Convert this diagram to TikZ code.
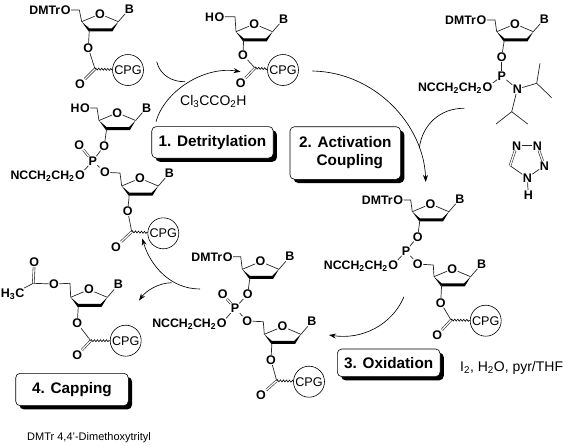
\documentclass[tikz,border=0pt]{standalone}
\usepackage{fontspec}
\setmainfont{Liberation Sans}
\usetikzlibrary{arrows.meta,decorations.pathmorphing,shadows}
\tikzset{
  atom/.style={font=\fontsize{12.5}{12.5}\selectfont\bfseries,inner sep=.3pt},
  atomlead/.style={font=\fontsize{12.3}{12.3}\selectfont\bfseries,inner ysep=.3pt,inner xsep=0pt,anchor=base east},
  bond/.style={line width=.7pt,black!85},
  dbl/.style={double=white,double distance=1.3pt,line width=.6pt,black!85},
  wig/.style={line width=.6pt,decorate,decoration={zigzag,amplitude=1pt,segment length=3pt}},
  cpg/.style={circle,draw,line width=.6pt,minimum size=31pt,inner sep=0pt,font=\fontsize{12.6}{12.6}\selectfont},
  reagent/.style={font=\fontsize{14}{14}\selectfont,inner sep=0pt},
  stepnode/.style={draw,line width=.6pt,fill=white,rounded corners=4.5pt,align=center,inner sep=0pt,
    font=\fontsize{15.3}{18}\selectfont\bfseries,
    general shadow={fill=black,shadow xshift=3.7pt,shadow yshift=-3.7pt}},
  arcline/.style={line width=.65pt},
  arcarrow/.style={arcline,-{Stealth[length=7pt,width=5pt]}}
}
% ring: name, x, y of C4'
\newcommand{\fur}[3]{%
  \coordinate (#1-c4) at (#2,#3);
  \coordinate (#1-c3) at (#2+7.6,#3+8.3);
  \coordinate (#1-c2) at (#2+30,#3+8.3);
  \coordinate (#1-c1) at (#2+36.6,#3);
  \node[atom] (#1-o) at (#2+18.3,#3-7.7) {O};
  \node[atom] (#1-b) at (#2+47.6,#3-12.7) {B};
  \draw[bond] (#1-c4) -- (#1-o);
  \draw[bond] (#1-o) -- (#1-c1);
  \draw[bond] (#1-c1) -- (#1-b);
  \fill (#2,#3) -- (#2+7.6,#3+6.6) -- (#2+30,#3+6.6) -- (#2+36.6,#3) -- (#2+30.8,#3+9.6) -- (#2+7,#3+9.6) -- cycle;
}
% tail: name, O3' x y, C x y, O= x y, CPG x y
\newcommand{\tail}[9]{%
  \node[atom] (#1-os) at (#2,#3) {O};
  \coordinate (#1-co) at (#4,#5);
  \node[atom] (#1-oc) at (#6,#7) {O};
  \node[cpg] (#1-cpg) at (#8,#9) {CPG};
  \draw[bond] (#1-c3) -- (#1-os);
  \draw[bond] (#1-os) -- (#1-co);
  \draw[dbl] (#1-co) -- (#1-oc);
  \draw[wig] (#1-co) -- (#1-cpg);
}
% 5' substituent: name, lead text, O x y, CH2 x y
\newcommand{\five}[6]{%
  \node[atom] (#1-ofive) at (#3,#4) {O};
  \node[atomlead] (#1-pre) at (#1-ofive.base west) {#2};
  \coordinate (#1-ch) at (#5,#6);
  \draw[bond] (#1-ofive) -- (#1-ch) -- (#1-c4);
}
% phosphate/phosphite link
\newcommand{\plink}[9]{%
  \node[atom] (#1-p) at (#2,#3) {P};
  \node[atom] (#1-ou) at (#4,#5) {O};
  \node[atom] (#1-ol) at (#6,#7) {O};
  \node[atom] (#1-oc) at (#8,#9) {O};
  \node[atomlead] (#1-ne) at (#1-oc.base west) {NCCH\textsubscript{2}CH\textsubscript{2}};
  \draw[bond] (#1a-c3) -- (#1-ou);
  \draw[bond] (#1-ou) -- (#1-p);
  \draw[bond] (#1-ol) -- (#1-p);
  \draw[bond] (#1-oc) -- (#1-p);
}
\begin{document}
\begin{tikzpicture}[x=1pt,y=-1pt]
\useasboundingbox (0,0) rectangle (567,445);

% M1
\fur{ma}{81.7}{21.7}
\five{ma}{DMTr}{65.7}{10}{79.3}{10}
\tail{ma}{88.3}{48}{95}{69}{80}{84}{128}{70}

% M2
\fur{mb}{236}{31.7}
\five{mb}{H}{219.5}{16.7}{235}{16.7}
\tail{mb}{243}{55}{255}{68}{240.7}{83}{283}{70}

% M3 dimer
\fur{mca}{99}{120.5}
\five{mca}{H}{85}{108}{97}{108}
\fur{mcb}{121.7}{186}
\plink{mc}{92.7}{161}{104.3}{145.7}{105}{172.3}{80}{175}
\node[atom] (mc-odb) at (79.3,145) {O};
\draw[dbl] (mc-p) -- (mc-odb);
\coordinate (mc-ch) at (120,173);
\draw[bond] (mc-ol) -- (mc-ch) -- (mcb-c4);
\tail{mcb}{127.7}{211}{131.7}{231.7}{116}{246.7}{163.3}{233.3}

% M4 capped
\fur{md}{70.7}{297.3}
\node[atom] (md-ofive) at (54,284) {O};
\coordinate (md-ch) at (70,283.3);
\coordinate (md-cac) at (33.3,283.3);
\node[atom] (md-oac) at (34.3,262.3) {O};
\node[atom,anchor=base east,inner xsep=0pt] (md-me) at (24.5,297.3) {H\textsubscript{3}C};
\draw[bond] (md-ofive) -- (md-ch) -- (md-c4);
\draw[bond] (md-ofive) -- (md-cac);
\draw[dbl] (md-cac) -- (md-oac);
\draw[bond] (md-cac) -- (md-me);
\tail{md}{77.3}{323.3}{90.7}{340.7}{77.3}{355}{125.7}{340.7}

% M5 amidite
\fur{me}{496.7}{31.7}
\five{me}{DMTr}{481.5}{20}{495}{20}
\node[atom] (me-os) at (501.7,56.7) {O};
\node[atom] (me-p) at (501.7,76) {P};
\node[atom] (me-oc) at (487.5,87.3) {O};
\node[atomlead] (me-ne) at (me-oc.base west) {NCCH\textsubscript{2}CH\textsubscript{2}};
\node[atom] (me-n) at (517.3,89) {N};
\coordinate (me-ia) at (536.7,83.3);
\coordinate (me-ia1) at (540,63.3);
\coordinate (me-ia2) at (551.7,97.7);
\coordinate (me-ib) at (511.7,111.7);
\coordinate (me-ib1) at (496,124);
\coordinate (me-ib2) at (527.7,124);
\draw[bond] (me-c3) -- (me-os);
\draw[bond] (me-os) -- (me-p);
\draw[bond] (me-oc) -- (me-p);
\draw[bond] (me-p) -- (me-n);
\draw[bond] (me-n) -- (me-ia);
\draw[bond] (me-ia1) -- (me-ia) -- (me-ia2);
\draw[bond] (me-n) -- (me-ib);
\draw[bond] (me-ib1) -- (me-ib) -- (me-ib2);

% tetrazole
\node[atom] (tz-n1) at (516.7,145.7) {N};
\node[atom] (tz-n2) at (537.3,145.7) {N};
\node[atom] (tz-n3) at (544.3,165.7) {N};
\node[atom] (tz-n4) at (527.3,177.7) {N};
\coordinate (tz-c) at (510,165.7);
\node[atom] (tz-h) at (528.3,195) {H};
\draw[bond] (tz-n1) -- (tz-n2);
\draw[dbl] (tz-n2) -- (tz-n3);
\draw[bond] (tz-n3) -- (tz-n4);
\draw[bond] (tz-n4) -- (tz-c);
\draw[dbl] (tz-c) -- (tz-n1);
\draw[bond] (tz-n4) -- (tz-h);

% M6 phosphite dimer
\fur{mfa}{412.3}{211.7}
\five{mfa}{DMTr}{398.3}{200}{410.7}{200}
\fur{mfb}{434}{276.7}
\plink{mf}{406}{251}{417.7}{236.7}{417.7}{264}{393.3}{265}
\coordinate (mf-ch) at (433.3,265);
\draw[bond] (mf-ol) -- (mf-ch) -- (mfb-c4);
\tail{mfb}{440.7}{302.7}{451}{320}{437.3}{335}{485.7}{320.7}

% M7 phosphate dimer
\fur{mga}{242.3}{269.3}
\five{mga}{DMTr}{227.7}{256.7}{240.7}{256.7}
\fur{mgb}{264.3}{334.3}
\plink{mg}{235}{308.3}{247.7}{294}{247.3}{321}{221.7}{323.3}
\node[atom] (mg-odb) at (222.7,294) {O};
\draw[dbl] (mg-p) -- (mg-odb);
\coordinate (mg-ch) at (263.3,321.7);
\draw[bond] (mg-ol) -- (mg-ch) -- (mgb-c4);
\tail{mgb}{271}{360}{276.7}{380.7}{261}{395}{309}{381.7}

% step boxes
\node[stepnode,minimum width=121.5pt,minimum height=31.5pt] (s1) at (212.5,142.3) {1. Detritylation};
\node[stepnode,minimum width=110.7pt,minimum height=52.6pt] (s2) at (345.3,153) {2. Activation\\\hspace*{9pt}Coupling};
\node[stepnode,minimum width=102.7pt,minimum height=27.7pt] (s3) at (388.7,362.8) {3. Oxidation};
\node[stepnode,minimum width=112.6pt,minimum height=32.4pt] (s4) at (72,389.5) {4. Capping};

% reagents
\node[reagent,anchor=base west] (r1) at (180,105) {Cl\textsubscript{3}CCO\textsubscript{2}H};
\node[reagent,anchor=base west] (r2) at (460,371.5) {I\textsubscript{2}, H\textsubscript{2}O, pyr/THF};
\node[inner sep=0pt,anchor=base west,font=\fontsize{11}{11}\selectfont] (foot) at (27,440) {DMTr 4,4'-Dimethoxytrityl};

% arrows
\coordinate (a1s) at (156,121.7);  \coordinate (a1e) at (240.5,71.7);
\coordinate (a1bs) at (156.7,61.7); \coordinate (a1be) at (185,81.7);
\draw[arcarrow] (a1s) .. controls (165,90) and (205,66) .. (a1e);
\draw[arcline] (a1bs) .. controls (160,75) and (172,82) .. (a1be);

\coordinate (a2s) at (312.3,71);  \coordinate (a2e) at (425.7,182);
\coordinate (a2bs) at (464.3,108.3); \coordinate (a2be) at (419.3,148.3);
\draw[arcarrow] (a2s) .. controls (375,72) and (424,125) .. (a2e);
\draw[arcline] (a2bs) .. controls (440,108) and (422,125) .. (a2be);

\coordinate (a3s) at (404,296.7); \coordinate (a3e) at (329,335);
\draw[arcarrow] (a3s) .. controls (392,325) and (362,340) .. (a3e);

\coordinate (a4s) at (200,289); \coordinate (a4e) at (142.3,238.5);
\coordinate (a4bs) at (171.7,282.7); \coordinate (a4be) at (139,300.5);
\draw[arcarrow] (a4s) .. controls (170,289) and (150,265) .. (a4e);
\draw[arcarrow] (a4bs) .. controls (158,283) and (146,291) .. (a4be);
\end{tikzpicture}
\end{document}
